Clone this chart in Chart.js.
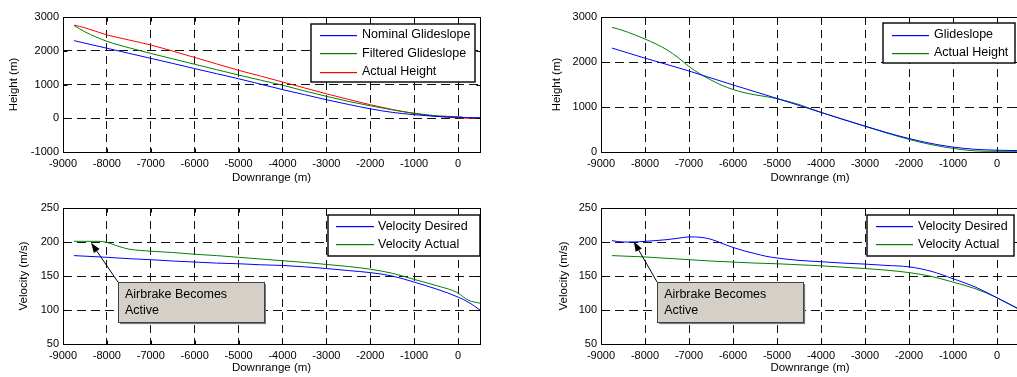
<!DOCTYPE html>
<html><head><meta charset="utf-8">
<script src="https://cdn.jsdelivr.net/npm/chart.js@4/dist/chart.umd.min.js"></script>
<style>
html,body{margin:0;padding:0;background:#fff;width:1017px;height:377px;overflow:hidden;position:relative}
canvas{position:absolute}
</style></head><body>
<canvas id="tl"></canvas><canvas id="tr"></canvas><canvas id="bl"></canvas><canvas id="br"></canvas>
<script>
// ---------- tick labels ----------
const xTicks = [-9000, -8000, -7000, -6000, -5000, -4000, -3000, -2000, -1000, 0];
const heightTicksLeft = [-1000, 0, 1000, 2000, 3000];
const heightTicksRight = [0, 1000, 2000, 3000];
const velocityTicks = [50, 100, 150, 200, 250];

// ---------- top-left: height ----------
const tlX = [-8750, -8500, -8000, -7500, -7000, -6500, -6000, -5500, -5000, -4500, -4000, -3500, -3000, -2500, -2000, -1500, -1000, -500, 0, 500];
const tlNominal = [2300, 2225, 2075, 1925, 1775, 1625, 1470, 1320, 1170, 1010, 850, 700, 550, 410, 280, 175, 105, 55, 25, 15];
const tlFilteredX = [-8750, -8500, -8000, -7500, -7000, -6500, -6000, -5500, -5000, -4500, -4000, -3500, -3000, -2500, -2000, -1500, -1000, -500, 0, 100];
const tlFiltered = [2750, 2560, 2280, 2090, 1920, 1760, 1600, 1440, 1280, 1130, 980, 810, 650, 500, 370, 250, 150, 75, 45, 40];
const tlActual = [2760, 2680, 2470, 2320, 2170, 1990, 1800, 1610, 1420, 1250, 1075, 900, 725, 560, 400, 260, 140, 60, 10, 0];

// ---------- top-right: height ----------
const trGlideX = [-8750, -8500, -8000, -7500, -7000, -6500, -6000, -5500, -5000, -4500, -4000, -3500, -3000, -2500, -2000, -1500, -1000, -500, 0, 500];
const trGlide = [2310, 2235, 2085, 1945, 1800, 1645, 1490, 1340, 1190, 1035, 880, 725, 575, 430, 300, 190, 110, 60, 40, 30];
const trActualX = [-8750, -8500, -8250, -8000, -7750, -7500, -7250, -7000, -6750, -6500, -6250, -6000, -5750, -5500, -5250, -5000, -4500, -4000, -3500, -3000, -2500, -2000, -1500, -1000, -500, 0, 500];
const trActual = [2770, 2700, 2610, 2510, 2400, 2270, 2100, 1900, 1735, 1600, 1480, 1390, 1320, 1270, 1230, 1185, 1055, 880, 725, 570, 420, 280, 165, 80, 25, 15, 15];

// ---------- bottom-left: velocity ----------
const blDesiredX = [-8750, -8000, -7500, -7000, -6500, -6000, -5500, -5000, -4500, -4000, -3500, -3000, -2500, -2000, -1500, -1000, -500, 0, 250, 500];
const blDesired = [180, 177.5, 175.5, 174, 172, 170.5, 169, 168, 166.5, 165.5, 163.5, 161, 158, 155, 150, 141, 131, 119, 111, 100];
const blActualX = [-8750, -8500, -8200, -8000, -7800, -7600, -7500, -7000, -6500, -6000, -5500, -5000, -4500, -4000, -3500, -3000, -2500, -2000, -1500, -1000, -500, 0, 100, 250, 500];
const blActual = [201, 201, 201, 199.5, 195, 191, 189.5, 186.5, 184.5, 182, 180, 177.5, 175, 172.5, 170, 167, 164, 160, 154, 145, 136, 125, 120, 114, 110];

// ---------- bottom-right: velocity ----------
const brDesiredX = [-8750, -8500, -8250, -8000, -7500, -7250, -7000, -6750, -6500, -6250, -6000, -5750, -5500, -5250, -5000, -4500, -4000, -3500, -3000, -2500, -2000, -1500, -1000, -500, 0, 500];
const brDesired = [202, 200, 200, 201, 203.5, 205.5, 207.5, 207, 204, 198, 192, 187, 183, 179, 176.5, 173, 171, 169, 167.5, 165.5, 163.5, 157, 146, 134, 118, 101];
const brActualX = [-8750, -8000, -7500, -7000, -6500, -6000, -5500, -5000, -4500, -4000, -3500, -3000, -2500, -2000, -1500, -1000, -500, 0, 500];
const brActual = [180, 178, 176, 174, 172, 170.5, 169, 168, 166.5, 165, 163, 161, 158.5, 155, 149.5, 141, 131.5, 118, 101.5];

const BLUE = '#0000ff', GREEN = '#008000', RED = '#ff0000';
const FONT = "'Liberation Sans', Arial, Helvetica, sans-serif";
Chart.defaults.font.family = FONT;
Chart.defaults.color = '#000';

const zip = (xs, ys) => xs.map((x, i) => ({x, y: ys[i]}));

function makePanel(cfg) {
  const cv = document.getElementById(cfg.id);
  const b = cfg.box, p = cfg.plot;
  cv.width = b.w; cv.height = b.h;
  cv.style.left = b.left + 'px'; cv.style.top = b.top + 'px';
  cv.style.width = b.w + 'px'; cv.style.height = b.h + 'px';

  const framePlugin = {
    id: 'frame_' + cfg.id,
    afterDraw(chart) {
      const ctx = chart.ctx, a = chart.chartArea;
      ctx.save();
      ctx.setLineDash([]);
      ctx.strokeStyle = '#000'; ctx.lineWidth = 1;
      const L = Math.round(a.left) + 0.5, T = Math.round(a.top) + 0.5, R = Math.round(a.right) + 0.5, B = Math.round(a.bottom) + 0.5;
      ctx.beginPath();
      chart.scales.x.ticks.forEach(t => {
        const px = Math.round(chart.scales.x.getPixelForValue(t.value)) + 0.5;
        ctx.moveTo(px, B); ctx.lineTo(px, B - 4);
        ctx.moveTo(px, T); ctx.lineTo(px, T + 4);
      });
      chart.scales.y.ticks.forEach(t => {
        const py = Math.round(chart.scales.y.getPixelForValue(t.value)) + 0.5;
        ctx.moveTo(L, py); ctx.lineTo(L + 4, py);
        ctx.moveTo(R, py); ctx.lineTo(R - 4, py);
      });
      ctx.stroke();
      ctx.strokeRect(L, T, R - L, B - T);
      ctx.restore();
    }
  };

  const legendPlugin = {
    id: 'boxlegend_' + cfg.id,
    afterDraw(chart) {
      const g = cfg.legend, ctx = chart.ctx;
      const ox = b.left, oy = b.top;
      ctx.save();
      ctx.setLineDash([]);
      ctx.fillStyle = '#fff';
      ctx.fillRect(g.x - ox, g.y - oy, g.w, g.h);
      ctx.strokeStyle = '#000'; ctx.lineWidth = 1.4;
      ctx.strokeRect(g.x - ox, g.y - oy, g.w, g.h);
      ctx.font = '12.5px ' + FONT;
      ctx.textBaseline = 'middle'; ctx.textAlign = 'left';
      chart.data.datasets.forEach((ds, i) => {
        const y = g.rows[i] - oy;
        ctx.fillStyle = ds.borderColor;
        ctx.fillRect(g.l1 - ox, Math.round(y), g.l2 - g.l1, 1.2);
        ctx.fillStyle = '#000';
        ctx.fillText(ds.label, g.tx - ox, y + 0.5);
      });
      ctx.restore();
    }
  };

  const notePlugin = {
    id: 'note_' + cfg.id,
    afterDraw(chart) {
      const n = cfg.note, ctx = chart.ctx;
      const xs = chart.scales.x, ys = chart.scales.y;
      const tipX = xs.getPixelForValue(n.tip[0]), tipY = ys.getPixelForValue(n.tip[1]);
      const bx = xs.getPixelForValue(n.anchor[0]), by = ys.getPixelForValue(n.anchor[1]);
      ctx.save();
      ctx.setLineDash([]);
      ctx.fillStyle = '#7a7a7a';
      ctx.fillRect(bx + 2, by + 2, n.w, n.h);
      ctx.fillStyle = '#d4d0c8';
      ctx.fillRect(bx, by, n.w, n.h);
      ctx.strokeStyle = '#404040'; ctx.lineWidth = 1;
      ctx.strokeRect(Math.round(bx) + 0.5, Math.round(by) + 0.5, n.w, n.h);
      ctx.fillStyle = '#000';
      ctx.font = '12.5px ' + FONT;
      ctx.textBaseline = 'middle'; ctx.textAlign = 'left';
      n.lines.forEach((t, i) => ctx.fillText(t, bx + 7, by + 12 + i * 16));
      const ang = Math.atan2(tipY - by, tipX - bx);
      const len = 10, wid = 3.5;
      const baseX = tipX - len * Math.cos(ang), baseY = tipY - len * Math.sin(ang);
      ctx.strokeStyle = '#000'; ctx.lineWidth = 1;
      ctx.beginPath(); ctx.moveTo(bx, by); ctx.lineTo(baseX, baseY); ctx.stroke();
      ctx.beginPath();
      ctx.moveTo(tipX, tipY);
      ctx.lineTo(baseX + wid * Math.sin(ang), baseY - wid * Math.cos(ang));
      ctx.lineTo(baseX - wid * Math.sin(ang), baseY + wid * Math.cos(ang));
      ctx.closePath();
      ctx.fillStyle = '#000'; ctx.fill();
      ctx.restore();
    }
  };

  const plugins = [framePlugin, legendPlugin];
  if (cfg.note) plugins.push(notePlugin);

  return new Chart(cv, {
    type: 'line',
    data: {
      datasets: cfg.series.map(s => ({
        label: s.label, data: zip(s.x, s.y), borderColor: s.color, backgroundColor: s.color,
        borderWidth: 1, pointRadius: 0, fill: false, cubicInterpolationMode: 'monotone'
      }))
    },
    options: {
      responsive: false, animation: false, devicePixelRatio: 1,
      layout: {padding: {left: 0, top: p.T - b.top, right: b.left + b.w - p.R, bottom: 0}},
      plugins: {legend: {display: false}, tooltip: {enabled: false}},
      scales: {
        x: {
          type: 'linear', min: -9000, max: 500,
          afterBuildTicks: s => { s.ticks = xTicks.map(v => ({value: v})); },
          afterFit: s => { s.height = b.top + b.h - p.B; },
          ticks: {padding: 5, font: {size: 11}, color: '#000', maxRotation: 0, autoSkip: false, callback: v => String(v)},
          grid: {color: '#111', lineWidth: 1, drawTicks: false},
          border: {display: false, dash: [8, 5]},
          title: {display: true, text: 'Downrange (m)', font: {size: 11.5}, color: '#000', padding: 0}
        },
        y: {
          type: 'linear', min: cfg.yMin, max: cfg.yMax,
          afterBuildTicks: s => { s.ticks = cfg.yTicks.map(v => ({value: v})); },
          afterFit: s => { s.width = p.L - b.left; },
          ticks: {padding: 4, font: {size: 11}, color: '#000', autoSkip: false, callback: v => String(v)},
          grid: {color: '#111', lineWidth: 1, drawTicks: false},
          border: {display: false, dash: [9, 5]},
          title: {display: true, text: cfg.yTitle, font: {size: 11.5}, color: '#000', padding: 0}
        }
      }
    },
    plugins
  });
}

makePanel({
  id: 'tl', box: {left: 7, top: 5, w: 483, h: 180}, plot: {L: 63, T: 17, R: 480, B: 152},
  yMin: -1000, yMax: 3000, yTicks: heightTicksLeft, yTitle: 'Height (m)',
  series: [
    {label: 'Nominal Glideslope', x: tlX, y: tlNominal, color: BLUE},
    {label: 'Filtered Glideslope', x: tlFilteredX, y: tlFiltered, color: GREEN},
    {label: 'Actual Height', x: tlX, y: tlActual, color: RED}
  ],
  legend: {x: 311, y: 24, w: 164, h: 58, l1: 320, l2: 357, tx: 362, rows: [34.5, 53, 71.5]}
});

makePanel({
  id: 'tr', box: {left: 550, top: 5, w: 480, h: 180}, plot: {L: 601, T: 17, R: 1019, B: 152},
  yMin: 0, yMax: 3000, yTicks: heightTicksRight, yTitle: 'Height (m)',
  series: [
    {label: 'Glideslope', x: trGlideX, y: trGlide, color: BLUE},
    {label: 'Actual Height', x: trActualX, y: trActual, color: GREEN}
  ],
  legend: {x: 883, y: 23, w: 132, h: 40, l1: 892, l2: 929, tx: 934, rows: [34.5, 52.5]}
});

makePanel({
  id: 'bl', box: {left: 17, top: 195, w: 473, h: 180}, plot: {L: 63, T: 208, R: 480, B: 344},
  yMin: 50, yMax: 250, yTicks: velocityTicks, yTitle: 'Velocity (m/s)',
  series: [
    {label: 'Velocity Desired', x: blDesiredX, y: blDesired, color: BLUE},
    {label: 'Velocity Actual', x: blActualX, y: blActual, color: GREEN}
  ],
  legend: {x: 328, y: 215, w: 152, h: 41, l1: 336, l2: 374, tx: 378, rows: [225.7, 244.3]},
  note: {tip: [-8360, 199], anchor: [-7747, 141], w: 146, h: 40, lines: ['Airbrake Becomes', 'Active']}
});

makePanel({
  id: 'br', box: {left: 557, top: 195, w: 473, h: 180}, plot: {L: 601, T: 208, R: 1019, B: 344},
  yMin: 50, yMax: 250, yTicks: velocityTicks, yTitle: 'Velocity (m/s)',
  series: [
    {label: 'Velocity Desired', x: brDesiredX, y: brDesired, color: BLUE},
    {label: 'Velocity Actual', x: brActualX, y: brActual, color: GREEN}
  ],
  legend: {x: 867, y: 215, w: 147, h: 41, l1: 876, l2: 913, tx: 918, rows: [225.7, 244.3]},
  note: {tip: [-8255, 200.8], anchor: [-7724, 141], w: 146, h: 40, lines: ['Airbrake Becomes', 'Active']}
});
</script>
</body></html>
